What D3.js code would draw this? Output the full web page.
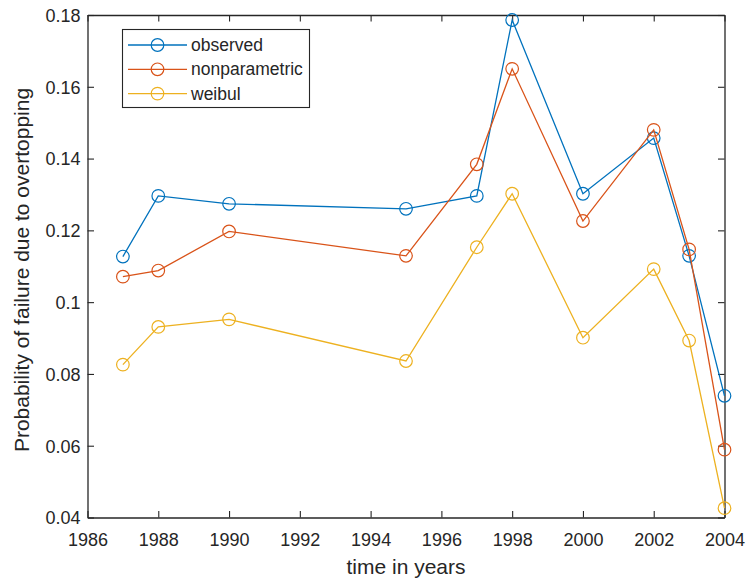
<!DOCTYPE html>
<html>
<head>
<meta charset="utf-8">
<script src="https://cdn.jsdelivr.net/npm/d3@7"></script>
<style>
  html, body { margin: 0; padding: 0; background: #fff; }
  svg { display: block; }
  text { font-family: "Liberation Sans", Arial, Helvetica, sans-serif; fill: #262626; }
</style>
</head>
<body>
<svg id="chart" width="746" height="580"></svg>
<script>
const years = [1987, 1988, 1990, 1995, 1997, 1998, 2000, 2002, 2003, 2004];
const observed = [0.1127, 0.1296, 0.1274, 0.1260, 0.1296, 0.1786, 0.1302, 0.1457, 0.1129, 0.0739];
const nonparametric = [0.1071, 0.1088, 0.1197, 0.1129, 0.1384, 0.1650, 0.1226, 0.1480, 0.1147, 0.0589];
const weibul = [0.0826, 0.0931, 0.0952, 0.0836, 0.1153, 0.1302, 0.0901, 0.1092, 0.0893, 0.0426];
const seriesNames = ["observed", "nonparametric", "weibul"];
const seriesColors = ["#0072BD", "#D95319", "#EDB120"];
const xTicks = [1986, 1988, 1990, 1992, 1994, 1996, 1998, 2000, 2002, 2004];
const yTicks = [0.04, 0.06, 0.08, 0.1, 0.12, 0.14, 0.16, 0.18];
const xLabel = "time in years";
const yLabel = "Probability of failure due to overtopping";

const series = [observed, nonparametric, weibul];

const svg = d3.select("#chart");
const L = 87.5, R = 724.5, T = 15, B = 517.5;
const axisColor = "#262626";

const x = d3.scaleLinear().domain([1986, 2004]).range([L, R]);
const y = d3.scaleLinear().domain([0.04, 0.18]).range([B, T]);

const fmt = v => (v === 0.1 ? "0.1" : d3.format(".2f")(v));
const tickLen = 6.5;

// Axes (MATLAB box style, ticks inward)
const gx = svg.append("g").attr("transform", `translate(0,${B})`)
  .call(d3.axisBottom(x).tickValues(xTicks).tickFormat(d3.format("d")).tickSize(-tickLen).tickPadding(16).tickSizeOuter(0));
const gxt = svg.append("g").attr("transform", `translate(0,${T})`)
  .call(d3.axisTop(x).tickValues(xTicks).tickFormat("").tickSize(-tickLen).tickSizeOuter(0));
const gy = svg.append("g").attr("transform", `translate(${L},0)`)
  .call(d3.axisLeft(y).tickValues(yTicks).tickFormat(fmt).tickSize(-tickLen).tickPadding(7).tickSizeOuter(0));
const gyr = svg.append("g").attr("transform", `translate(${R},0)`)
  .call(d3.axisRight(y).tickValues(yTicks).tickFormat("").tickSize(-tickLen).tickSizeOuter(0));

[gx, gxt, gy, gyr].forEach(g => {
  g.selectAll(".domain").attr("stroke", axisColor).attr("stroke-width", 1.3);
  g.selectAll(".tick line").attr("stroke", axisColor).attr("stroke-width", 1.1);
  g.selectAll(".tick text").attr("fill", axisColor).style("font-size", "18px")
    .style("font-family", '"Liberation Sans", Arial, sans-serif');
});
gx.selectAll(".tick text").attr("dy", "0.71em");
gy.selectAll(".tick text").attr("dy", "0.35em");

// Lines & markers
const line = d3.line().x((d, i) => x(years[i])).y(d => y(d));
series.forEach((s, k) => {
  svg.append("path").datum(s)
    .attr("d", line).attr("fill", "none")
    .attr("stroke", seriesColors[k]).attr("stroke-width", 1.3);
  svg.append("g").selectAll("circle").data(s).join("circle")
    .attr("cx", (d, i) => x(years[i])).attr("cy", d => y(d)).attr("r", 6.3)
    .attr("fill", "none").attr("stroke", seriesColors[k]).attr("stroke-width", 1.2);
});

// Axis labels
svg.append("text").attr("x", 406).attr("y", 574)
  .attr("text-anchor", "middle").style("font-size", "21px").text(xLabel);
svg.append("text").attr("transform", `translate(29,270) rotate(-90)`)
  .attr("text-anchor", "middle").style("font-size", "21px").text(yLabel);

// Legend
const lg = svg.append("g");
lg.append("rect").attr("x", 122.5).attr("y", 29.5).attr("width", 187).attr("height", 78)
  .attr("fill", "#fff").attr("stroke", axisColor).attr("stroke-width", 1.1);
seriesNames.forEach((name, k) => {
  const yy = 45 + k * 24.3;
  lg.append("line").attr("x1", 128).attr("x2", 187).attr("y1", yy).attr("y2", yy)
    .attr("stroke", seriesColors[k]).attr("stroke-width", 1.3);
  lg.append("circle").attr("cx", 157.5).attr("cy", yy).attr("r", 6.3)
    .attr("fill", "none").attr("stroke", seriesColors[k]).attr("stroke-width", 1.2);
  lg.append("text").attr("x", 191).attr("y", yy).attr("dy", "0.35em")
    .style("font-size", "17.5px").text(name);
});
</script>
</body>
</html>
